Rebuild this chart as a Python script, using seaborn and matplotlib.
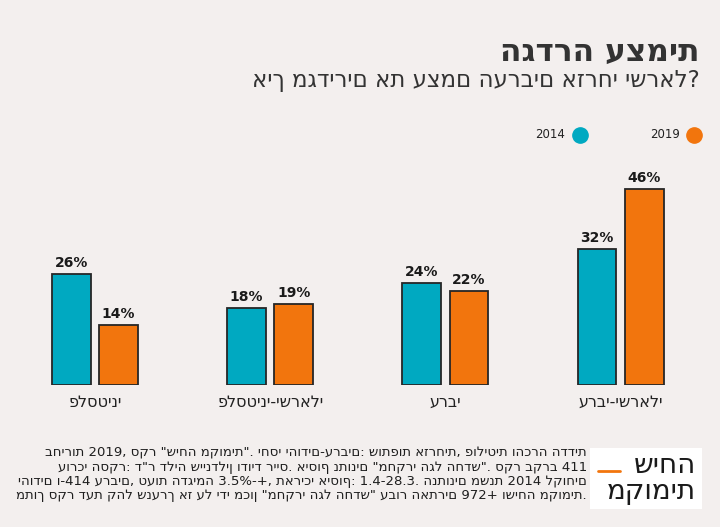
import pandas as pd
import seaborn as sns
import matplotlib.pyplot as plt
from matplotlib.lines import Line2D
from matplotlib.patches import Rectangle

# data ------------------------------------------------------------------
categories = ['פלסטיני', 'פלסטיני-ישראלי', 'ערבי', 'ערבי-ישראלי']
years = ['2014', '2019']
share_2014 = [26, 18, 24, 32]
share_2019 = [14, 19, 22, 46]

title = 'הגדרה עצמית'
subtitle = 'איך מגדירים את עצמם הערבים אזרחי ישראל?'
notes = [
    'בחירות 2019, סקר "שיחה מקומית". יחסי יהודים-ערבים: שותפות אזרחית, פוליטית והכרה הדדית',
    'עורכי הסקר: ד"ר דליה שיינדלין ודויד רייס. איסוף נתונים "מחקרי הגל החדש". סקר בקרב 411',
    'יהודים ו-414 ערבים, טעות הדגימה 3.5%-+, תאריכי איסוף: 1.4-28.3. הנתונים משנת 2014 לקוחים',
    'מתוך סקר דעת קהל שנערך אז על ידי מכון "מחקרי הגל החדש" עבור האתרים 972+ ושיחה מקומית.',
]
logo = ['שיחה', 'מקומית']

df = pd.DataFrame({
    'category': categories * 2,
    'year': [years[0]] * len(categories) + [years[1]] * len(categories),
    'share': share_2014 + share_2019,
})

# style -----------------------------------------------------------------
bg = '#f3efee'
teal = '#00a9c1'
orange = '#f2750d'
dark = '#333333'

sns.set_style('white')
plt.rcParams['font.family'] = ['DejaVu Sans']

W, H = 720, 527
fig = plt.figure(figsize=(7.2, 5.27), dpi=100)
fig.patch.set_facecolor(bg)

ax = fig.add_axes([7.3 / W, (H - 385) / H, 701 / W, 213 / H])
ax.set_facecolor(bg)
sns.barplot(data=df, x='category', y='share', hue='year',
            order=categories, hue_order=years,
            palette=[teal, orange], saturation=1, width=0.54, gap=0.18,
            edgecolor='#262626', linewidth=1.3, legend=False, ax=ax)

for cont in ax.containers:
    ax.bar_label(cont, fmt='%d%%', padding=3, fontsize=10,
                 fontweight='bold', color='#1a1a1a')

ax.set_xlim(-0.5, 3.5)
ax.set_ylim(0, 50)
ax.set_xlabel('')
ax.set_ylabel('')
ax.set_yticks([])
ax.tick_params(axis='x', length=0, pad=7, labelsize=11.5, labelcolor='#222222')
sns.despine(ax=ax, left=True, bottom=True)

# titles ----------------------------------------------------------------
fig.text(700 / W, 1 - 52 / H, title, ha='right', va='center',
         fontsize=22.5, fontweight='bold', color=dark)
fig.text(700 / W, 1 - 81 / H, subtitle, ha='right', va='center',
         fontsize=16.5, color=dark)

# legend (circle to the right of the year) ------------------------------
for yr, col, xt, xc in [(years[0], teal, 565, 580), (years[1], orange, 680, 694)]:
    fig.text(xt / W, 1 - 135 / H, yr, ha='right', va='center',
             fontsize=8.5, color='#222222')
    fig.add_artist(Line2D([xc / W], [1 - 135 / H], marker='o', markersize=11,
                          color=col, linestyle='none', transform=fig.transFigure))

# footnote --------------------------------------------------------------
for i, line in enumerate(notes):
    fig.text(587 / W, 1 - (453 + 14 * i) / H, line, ha='right', va='center',
             fontsize=9.5, color='#1e1e1e')

# logo ------------------------------------------------------------------
fig.add_artist(Rectangle((590 / W, 1 - 509 / H), 112 / W, 61 / H,
                         facecolor='white', edgecolor='none', transform=fig.transFigure))
fig.text(696 / W, 1 - 465 / H, logo[0], ha='right', va='center',
         fontsize=20, color='#1a1a1a')
fig.text(696 / W, 1 - 491 / H, logo[1], ha='right', va='center',
         fontsize=20, color='#1a1a1a')
fig.add_artist(Line2D([598 / W, 620 / W], [1 - 471 / H] * 2, color=orange,
                      linewidth=2, transform=fig.transFigure))

fig.savefig('out.png', dpi=100, facecolor=bg)
